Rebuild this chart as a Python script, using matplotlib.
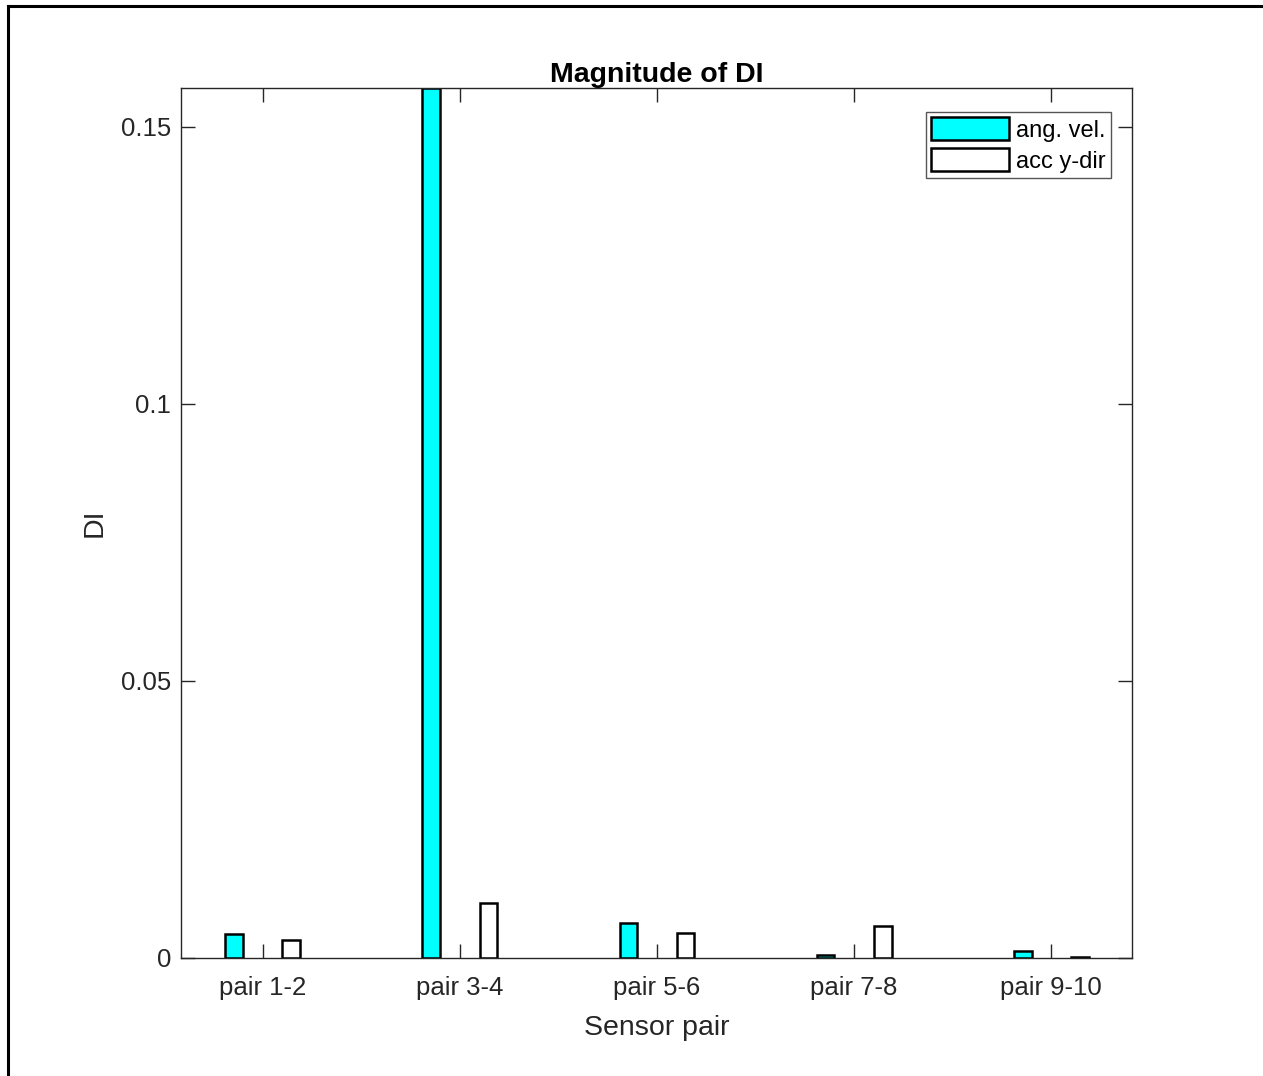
import numpy as np
import matplotlib
matplotlib.use("Agg")
import matplotlib.pyplot as plt
from matplotlib.lines import Line2D

plt.rcParams['font.family'] = ['Liberation Sans', 'DejaVu Sans']

# data
pairs = ['pair 1-2', 'pair 3-4', 'pair 5-6', 'pair 7-8', 'pair 9-10']
ang_vel = [0.0044, 0.157, 0.0063, 0.0005, 0.0013]
acc_y = [0.0033, 0.0100, 0.0045, 0.0058, 0.0002]
y_ticks = [0, 0.05, 0.1, 0.15]
y_tick_labels = ['0', '0.05', '0.1', '0.15']

fig = plt.figure(figsize=(12.63, 10.76), dpi=100)
ax = fig.add_axes([0.1433, 0.1097, 0.753, 0.8085])

x = np.arange(1, len(pairs) + 1)
offset = 0.145
width = 0.09
ax.bar(x - offset, ang_vel, width, color='#00ffff', edgecolor='black',
       linewidth=1.8, label='ang. vel.')
ax.bar(x + offset, acc_y, width, color='white', edgecolor='black',
       linewidth=1.8, label='acc y-dir')

ax.set_xlim(0.585, 5.41)
ax.set_ylim(0, 0.157)
ax.set_xticks(x)
ax.set_xticklabels(pairs)
ax.set_yticks(y_ticks)
ax.set_yticklabels(y_tick_labels)

axis_color = '#262626'
for s in ax.spines.values():
    s.set_color(axis_color)
    s.set_linewidth(1.0)
ax.tick_params(direction='in', length=10, width=1.0, colors=axis_color,
               labelsize=18.5, top=True, right=True)
ax.tick_params(axis='x', pad=13)
ax.tick_params(axis='y', pad=7)
for lbl in ax.get_xticklabels() + ax.get_yticklabels():
    lbl.set_color(axis_color)

ax.set_title('Magnitude of DI', fontsize=20.5, fontweight='bold', pad=4)
ax.set_xlabel('Sensor pair', fontsize=20.5, color=axis_color, labelpad=11)
ax.set_ylabel('DI', fontsize=20.5, color=axis_color, labelpad=10)

leg = ax.legend(loc='upper right', bbox_to_anchor=(0.978, 0.9724), fontsize=17,
                fancybox=False, framealpha=1, edgecolor='#555555',
                handlelength=3.3, handleheight=1.1, handletextpad=0.3,
                borderpad=0.22, labelspacing=0.28, borderaxespad=0)
leg.get_frame().set_linewidth(1.0)

# figure frame (left and top edges visible)
fig.add_artist(Line2D([0.0063, 0.0063], [0, 0.9944], transform=fig.transFigure,
                      color='black', linewidth=2.2))
fig.add_artist(Line2D([0.0063, 1], [0.9944, 0.9944], transform=fig.transFigure,
                      color='black', linewidth=2.2))

fig.savefig('out.png', dpi=100, facecolor='white')
